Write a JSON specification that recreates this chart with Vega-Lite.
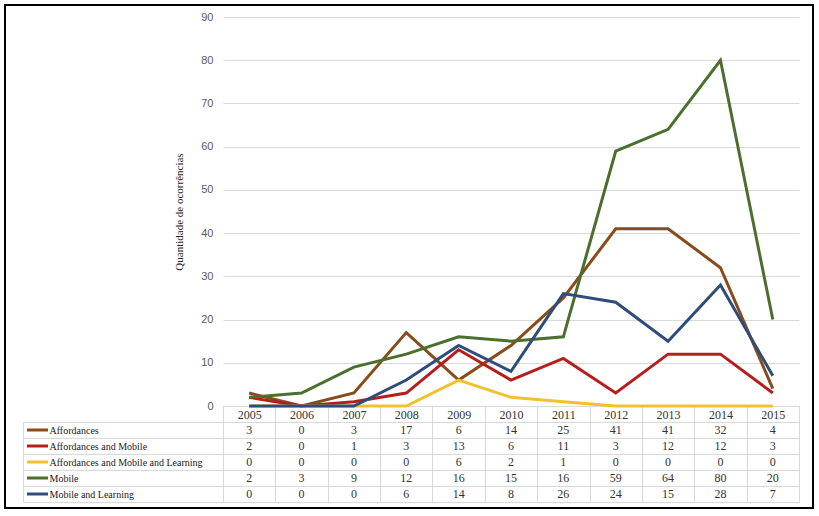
{
  "$schema": "https://vega.github.io/schema/vega-lite/v6.json",
  "width": 808,
  "height": 503,
  "autosize": "none",
  "padding": {"left": 5, "top": 5, "right": 6, "bottom": 8},
  "config": {"view": {"stroke": "#000", "strokeWidth": 2}, "font": "Liberation Serif"},
  "data": {"values": [
    {"series": "Affordances", "year": "2005", "value": 3},
    {"series": "Affordances", "year": "2006", "value": 0},
    {"series": "Affordances", "year": "2007", "value": 3},
    {"series": "Affordances", "year": "2008", "value": 17},
    {"series": "Affordances", "year": "2009", "value": 6},
    {"series": "Affordances", "year": "2010", "value": 14},
    {"series": "Affordances", "year": "2011", "value": 25},
    {"series": "Affordances", "year": "2012", "value": 41},
    {"series": "Affordances", "year": "2013", "value": 41},
    {"series": "Affordances", "year": "2014", "value": 32},
    {"series": "Affordances", "year": "2015", "value": 4},
    {"series": "Affordances and Mobile", "year": "2005", "value": 2},
    {"series": "Affordances and Mobile", "year": "2006", "value": 0},
    {"series": "Affordances and Mobile", "year": "2007", "value": 1},
    {"series": "Affordances and Mobile", "year": "2008", "value": 3},
    {"series": "Affordances and Mobile", "year": "2009", "value": 13},
    {"series": "Affordances and Mobile", "year": "2010", "value": 6},
    {"series": "Affordances and Mobile", "year": "2011", "value": 11},
    {"series": "Affordances and Mobile", "year": "2012", "value": 3},
    {"series": "Affordances and Mobile", "year": "2013", "value": 12},
    {"series": "Affordances and Mobile", "year": "2014", "value": 12},
    {"series": "Affordances and Mobile", "year": "2015", "value": 3},
    {"series": "Affordances and Mobile and Learning", "year": "2005", "value": 0},
    {"series": "Affordances and Mobile and Learning", "year": "2006", "value": 0},
    {"series": "Affordances and Mobile and Learning", "year": "2007", "value": 0},
    {"series": "Affordances and Mobile and Learning", "year": "2008", "value": 0},
    {"series": "Affordances and Mobile and Learning", "year": "2009", "value": 6},
    {"series": "Affordances and Mobile and Learning", "year": "2010", "value": 2},
    {"series": "Affordances and Mobile and Learning", "year": "2011", "value": 1},
    {"series": "Affordances and Mobile and Learning", "year": "2012", "value": 0},
    {"series": "Affordances and Mobile and Learning", "year": "2013", "value": 0},
    {"series": "Affordances and Mobile and Learning", "year": "2014", "value": 0},
    {"series": "Affordances and Mobile and Learning", "year": "2015", "value": 0},
    {"series": "Mobile", "year": "2005", "value": 2},
    {"series": "Mobile", "year": "2006", "value": 3},
    {"series": "Mobile", "year": "2007", "value": 9},
    {"series": "Mobile", "year": "2008", "value": 12},
    {"series": "Mobile", "year": "2009", "value": 16},
    {"series": "Mobile", "year": "2010", "value": 15},
    {"series": "Mobile", "year": "2011", "value": 16},
    {"series": "Mobile", "year": "2012", "value": 59},
    {"series": "Mobile", "year": "2013", "value": 64},
    {"series": "Mobile", "year": "2014", "value": 80},
    {"series": "Mobile", "year": "2015", "value": 20},
    {"series": "Mobile and Learning", "year": "2005", "value": 0},
    {"series": "Mobile and Learning", "year": "2006", "value": 0},
    {"series": "Mobile and Learning", "year": "2007", "value": 0},
    {"series": "Mobile and Learning", "year": "2008", "value": 6},
    {"series": "Mobile and Learning", "year": "2009", "value": 14},
    {"series": "Mobile and Learning", "year": "2010", "value": 8},
    {"series": "Mobile and Learning", "year": "2011", "value": 26},
    {"series": "Mobile and Learning", "year": "2012", "value": 24},
    {"series": "Mobile and Learning", "year": "2013", "value": 15},
    {"series": "Mobile and Learning", "year": "2014", "value": 28},
    {"series": "Mobile and Learning", "year": "2015", "value": 7}
  ]},
  "layer": [
    {
      "mark": {"type": "line", "strokeWidth": 3},
      "encoding": {
        "x": {"field": "year", "type": "ordinal",
          "scale": {"range": [218, 794], "paddingInner": 0, "paddingOuter": 0},
          "axis": {"orient": "bottom", "offset": -102, "tickBand": "extent", "tickSize": 96, "tickColor": "#d9d9d9", "domainColor": "#d9d9d9", "labelPadding": -93, "labelAngle": 0, "labelFont": "Liberation Serif", "labelFontSize": 12, "labelColor": "#333", "title": null, "grid": false}},
        "y": {"field": "value", "type": "quantitative",
          "scale": {"domain": [0, 90], "range": [401, 12], "nice": false},
          "axis": {"offset": -218, "values": [0, 10, 20, 30, 40, 50, 60, 70, 80, 90], "domain": false, "ticks": false, "labelPadding": 10, "labelFont": "Liberation Sans", "labelFontSize": 11, "labelColor": "#595959", "gridColor": "#d9d9d9", "title": "Quantidade de ocorrências", "titleFont": "Liberation Serif", "titleFontSize": 11, "titleFontWeight": "normal", "titleColor": "#222", "titlePadding": 16}},
        "color": {"field": "series", "type": "nominal",
          "scale": {"domain": ["Affordances", "Affordances and Mobile", "Affordances and Mobile and Learning", "Mobile", "Mobile and Learning"],
                    "range": ["#8a4b1b", "#b81d1d", "#f2c12e", "#4b6f2e", "#2e4d7b"]},
          "legend": null}
      }
    },
    {
      "mark": {"type": "text", "font": "Liberation Serif", "fontSize": 12, "color": "#333"},
      "encoding": {
        "x": {"field": "year", "type": "ordinal",
          "scale": {"range": [218, 794], "paddingInner": 0, "paddingOuter": 0},
          "axis": null},
        "y": {"field": "series", "type": "nominal",
          "scale": {"range": [417, 497], "paddingInner": 0, "paddingOuter": 0},
          "axis": {"orient": "left", "offset": -18, "labels": true, "labelAlign": "left", "labelBaseline": "middle", "labelPadding": 174, "labelFont": "Liberation Serif", "labelFontSize": 10, "labelColor": "#222", "labelLimit": 300, "tickBand": "extent", "tickSize": -200, "tickColor": "#d9d9d9", "domainColor": "#d9d9d9", "grid": true, "gridColor": "#d9d9d9", "title": null}},
        "text": {"field": "value", "type": "quantitative"}
      }
    },
    {
      "transform": [{"filter": "datum.year == '2005'"}],
      "mark": {"type": "rule", "strokeWidth": 3},
      "encoding": {
        "x": {"datum": 0, "type": "quantitative", "scale": {"domain": [0, 1], "range": [22, 43]}, "axis": null},
        "x2": {"datum": 1},
        "y": {"field": "series", "type": "nominal",
          "scale": {"range": [417, 497], "paddingInner": 0, "paddingOuter": 0},
          "axis": null},
        "color": {"field": "series", "type": "nominal", "legend": null}
      }
    }
  ],
  "resolve": {"scale": {"x": "independent", "y": "independent"}, "axis": {"x": "independent", "y": "independent"}}
}
